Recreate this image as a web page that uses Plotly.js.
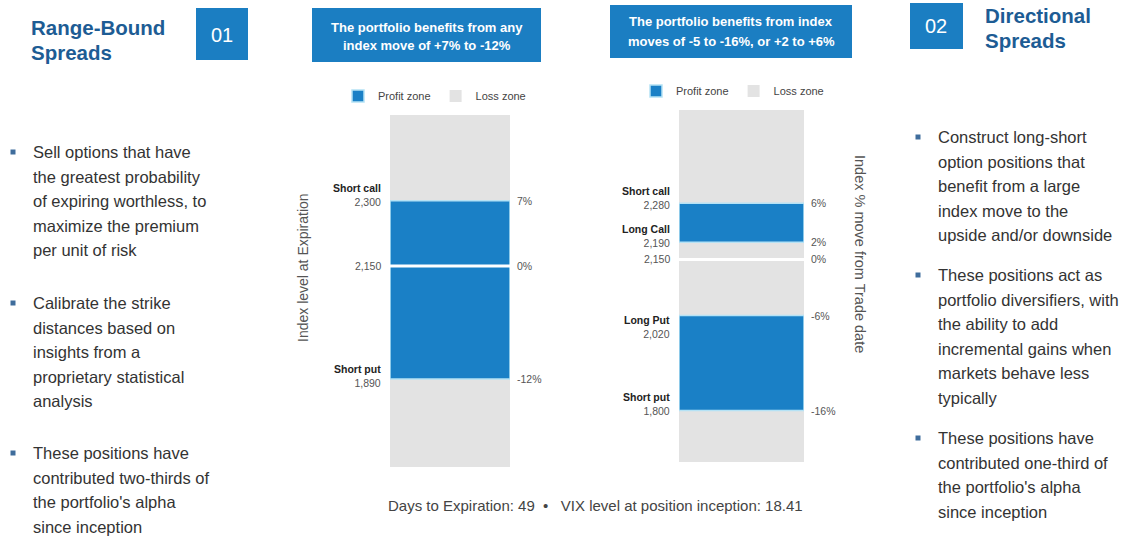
<!DOCTYPE html>
<html>
<head>
<meta charset="utf-8">
<script src="https://cdn.plot.ly/plotly-3.0.1.min.js"></script>
<style>html,body{margin:0;padding:0;background:#fff;}#chart{width:1123px;height:536px;}</style>
</head>
<body>
<div id="chart"></div>
<script>
// ---------- data ----------
const tradeLevel = 2150;
// Range-bound spread (left chart)
const leftStrikes = [2300, 2150, 1890];
const leftNames = ['Short call', '', 'Short put'];
const leftPct = ['7%', '0%', '-12%'];
const leftProfitLow = [1890];
const leftProfitHigh = [2300];
const leftLossZone = [1688, 2497];
// Directional spread (right chart)
const rightStrikes = [2280, 2190, 2150, 2020, 1800];
const rightNames = ['Short call', 'Long Call', '', 'Long Put', 'Short put'];
const rightPct = ['6%', '2%', '0%', '-6%', '-16%'];
const rightProfitLow = [2190, 1800];
const rightProfitHigh = [2280, 2020];
const rightLossZone = [1681, 2496];
// texts
const leftHeader = ['Range-Bound', 'Spreads'];
const rightHeader = ['Directional', 'Spreads'];
const leftBox = ['The portfolio benefits from any', 'index move of +7% to -12%'];
const rightBox = ['The portfolio benefits from index', 'moves of -5 to -16%, or +2 to +6%'];
const leftBullets = [
  ['Sell options that have', 'the greatest probability', 'of expiring worthless, to', 'maximize the premium', 'per unit of risk'],
  ['Calibrate the strike', 'distances based on', 'insights from a', 'proprietary statistical', 'analysis'],
  ['These positions have', 'contributed two-thirds of', "the portfolio's alpha", 'since inception']
];
const rightBullets = [
  ['Construct long-short', 'option positions that', 'benefit from a large', 'index move to the', 'upside and/or downside'],
  ['These positions act as', 'portfolio diversifiers, with', 'the ability to add', 'incremental gains when', 'markets behave less', 'typically'],
  ['These positions have', 'contributed one-third of', "the portfolio's alpha", 'since inception']
];
const footer = 'Days to Expiration: 49  \u2022   VIX level at position inception: 18.41';

// ---------- styling ----------
const W = 1123, H = 536;
const BLUE = '#1a80c6', GREY = '#e3e3e3', BOX = '#1b7ec2', NAVY = '#1d5c94', TXT = '#333333';
const FONT = 'Liberation Sans, Arial, sans-serif';
const px = x => x / W;
const py = y => 1 - y / H;
const fmt = v => v.toLocaleString('en-US');

const traces = [
  {type:'bar', x:[0], base:[leftLossZone[0]], y:[leftLossZone[1]-leftLossZone[0]], width:[1],
   marker:{color:GREY}, name:'Loss zone', legend:'legend', legendrank:2, xaxis:'x', yaxis:'y', hoverinfo:'skip'},
  {type:'bar', x:leftProfitLow.map(()=>0), base:leftProfitLow, y:leftProfitHigh.map((h,i)=>h-leftProfitLow[i]), width:leftProfitLow.map(()=>1),
   marker:{color:BLUE, line:{color:'#b5e2f5', width:1.5}}, name:'Profit zone', legend:'legend', legendrank:1, xaxis:'x', yaxis:'y', hoverinfo:'skip'},
  {type:'bar', x:[0], base:[rightLossZone[0]], y:[rightLossZone[1]-rightLossZone[0]], width:[1],
   marker:{color:GREY}, name:'Loss zone', legend:'legend2', legendrank:2, xaxis:'x2', yaxis:'y2', hoverinfo:'skip'},
  {type:'bar', x:rightProfitLow.map(()=>0), base:rightProfitLow, y:rightProfitHigh.map((h,i)=>h-rightProfitLow[i]), width:rightProfitLow.map(()=>1),
   marker:{color:BLUE, line:{color:'#b5e2f5', width:1.5}}, name:'Profit zone', legend:'legend2', legendrank:1, xaxis:'x2', yaxis:'y2', hoverinfo:'skip'}
];

const ann = [];
const shapes = [];
const T = (text, x, y, o={}) => ann.push(Object.assign({text, x:px(x), y:py(y), xref:'paper', yref:'paper', showarrow:false,
  xanchor:'left', yanchor:'middle', font:{family:FONT, size:16.5, color:TXT}}, o));

// headers
T('<b>'+leftHeader[0]+'</b>', 29, 27, {font:{family:FONT, size:20.5, color:NAVY}});
T('<b>'+leftHeader[1]+'</b>', 29, 53, {font:{family:FONT, size:20.5, color:NAVY}});
T('<b>'+rightHeader[0]+'</b>', 983, 15, {font:{family:FONT, size:20.5, color:NAVY}});
T('<b>'+rightHeader[1]+'</b>', 983, 40, {font:{family:FONT, size:20.5, color:NAVY}});
shapes.push({type:'rect', xref:'paper', yref:'paper', x0:px(196), x1:px(248), y0:py(60), y1:py(8), fillcolor:BOX, line:{width:0}});
shapes.push({type:'rect', xref:'paper', yref:'paper', x0:px(910), x1:px(963), y0:py(49), y1:py(3), fillcolor:BOX, line:{width:0}});
T('01', 222, 35, {xanchor:'center', font:{family:FONT, size:20, color:'#fff'}});
T('02', 936, 26, {xanchor:'center', font:{family:FONT, size:20, color:'#fff'}});

// blue message boxes
shapes.push({type:'rect', xref:'paper', yref:'paper', x0:px(312), x1:px(541), y0:py(62), y1:py(8), fillcolor:BOX, line:{width:0}});
shapes.push({type:'rect', xref:'paper', yref:'paper', x0:px(610), x1:px(852), y0:py(58), y1:py(5), fillcolor:BOX, line:{width:0}});
leftBox.forEach((t,i)=>T('<b>'+t+'</b>', 427, 27+i*19, {xanchor:'center', font:{family:FONT, size:13, color:'#fff'}}));
rightBox.forEach((t,i)=>T('<b>'+t+'</b>', 731, 22+i*19, {xanchor:'center', font:{family:FONT, size:13, color:'#fff'}}));

// bullets
function bullets(groups, xb, xt, starts){
  groups.forEach((g,gi)=>{
    const y0 = starts[gi];
    shapes.push({type:'rect', xref:'paper', yref:'paper', x0:px(xb-2.5), x1:px(xb+2.5), y0:py(y0+2.5), y1:py(y0-2.5), fillcolor:'#3f6d9c', line:{width:0}});
    g.forEach((t,li)=>T(t, xt, y0 + li*24.6));
  });
}
bullets(leftBullets, 13, 31, [152, 303, 453]);
bullets(rightBullets, 918, 936, [137, 275, 438]);

// axis titles & footer
T('Index level at Expiration', 303, 268, {xanchor:'center', textangle:-90, font:{family:FONT, size:14, color:'#555'}});
T('Index % move from Trade date', 860, 254, {xanchor:'center', textangle:90, font:{family:FONT, size:14.5, color:'#555'}});
T(footer, 595, 505, {xanchor:'center', font:{family:FONT, size:15, color:'#444'}});

// strike labels
function strikeLabels(strikes, names, pcts, xr, yr, shifts){
  strikes.forEach((v,i)=>{
    const txt = names[i] ? '<b>'+names[i]+'</b><br><span style="color:#555">'+fmt(v)+'</span>' : '<span style="color:#555">'+fmt(v)+'</span>';
    ann.push({text:txt, x:-0.5, y:v, xref:xr, yref:yr, showarrow:false, xanchor:'right', yanchor:'middle', align:'right',
      xshift:-7, yshift:shifts[i], font:{family:FONT, size:10.5, color:'#222'}});
    ann.push({text:pcts[i], x:0.5, y:v, xref:xr, yref:yr, showarrow:false, xanchor:'left', yanchor:'middle',
      xshift:5, yshift:0, font:{family:FONT, size:10.5, color:'#555'}});
  });
}
strikeLabels(leftStrikes, leftNames, leftPct, 'x', 'y', [6, 0, 3]);
strikeLabels(rightStrikes, rightNames, rightPct, 'x2', 'y2', [5, 6, 0, -11, 7]);

// trade-date lines
shapes.push({type:'line', xref:'x', yref:'y', x0:-0.5, x1:0.5, y0:tradeLevel, y1:tradeLevel, line:{color:'#fff', width:3}, layer:'above'});
shapes.push({type:'line', xref:'x2', yref:'y2', x0:-0.5, x1:0.5, y0:tradeLevel, y1:tradeLevel, line:{color:'#fff', width:3}, layer:'above'});

const hid = {showgrid:false, zeroline:false, showticklabels:false, ticks:'', showline:false, fixedrange:true};
const layout = {
  width:W, height:H, margin:{l:0, r:0, t:0, b:0},
  paper_bgcolor:'#fff', plot_bgcolor:'rgba(0,0,0,0)',
  barmode:'overlay', bargap:0,
  showlegend:true,
  xaxis:Object.assign({domain:[px(390), px(510)], range:[-0.5,0.5], anchor:'y'}, hid),
  yaxis:Object.assign({domain:[py(467), py(115)], range:leftLossZone, anchor:'x'}, hid),
  xaxis2:Object.assign({domain:[px(679), px(804)], range:[-0.5,0.5], anchor:'y2'}, hid),
  yaxis2:Object.assign({domain:[py(462), py(110)], range:rightLossZone, anchor:'x2'}, hid),
  legend:{orientation:'h', x:px(338), xanchor:'left', y:py(96), yanchor:'middle', font:{family:FONT, size:11, color:'#444'}, bgcolor:'rgba(0,0,0,0)', itemwidth:30, traceorder:'normal'},
  legend2:{orientation:'h', x:px(636), xanchor:'left', y:py(91), yanchor:'middle', font:{family:FONT, size:11, color:'#444'}, bgcolor:'rgba(0,0,0,0)', itemwidth:30, traceorder:'normal'},
  annotations:ann, shapes:shapes, font:{family:FONT}
};
Plotly.newPlot('chart', traces, layout, {staticPlot:true, displayModeBar:false});
</script>
</body>
</html>
